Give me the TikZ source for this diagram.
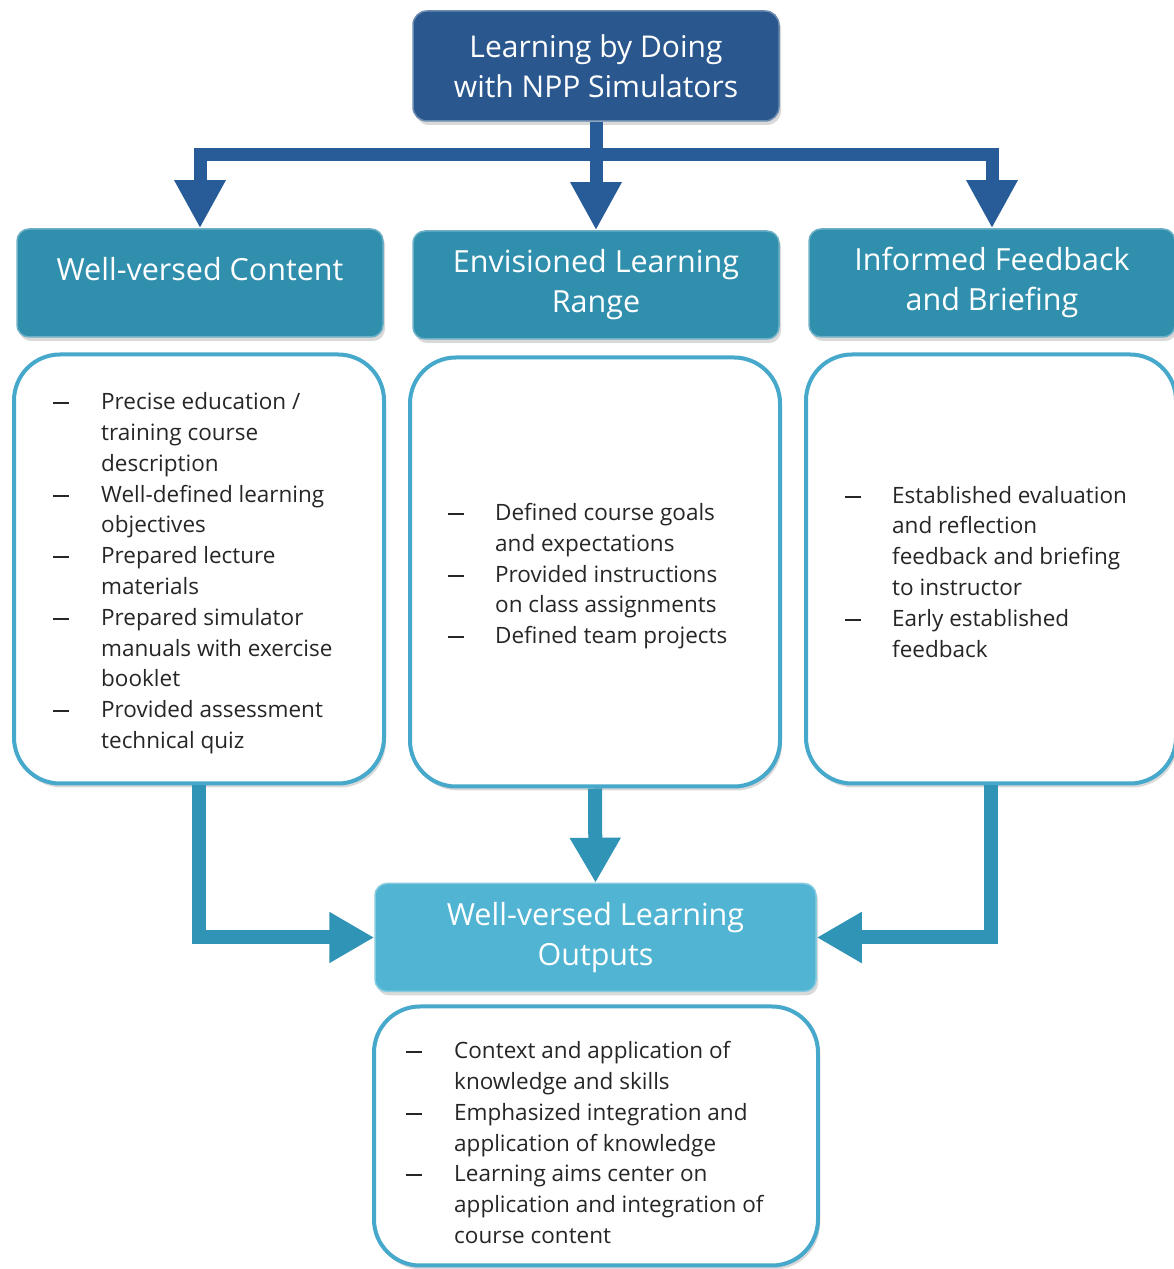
\documentclass[tikz,border=0pt]{standalone}
\usepackage{fontspec}
\setmainfont{Open Sans}
\usetikzlibrary{positioning,arrows.meta,shadows}
\definecolor{topblue}{RGB}{42,88,142}
\definecolor{arrowblue}{RGB}{40,92,152}
\definecolor{headteal}{RGB}{48,143,173}
\definecolor{outteal}{RGB}{80,180,210}
\definecolor{rimteal}{RGB}{70,168,202}
\definecolor{arrowteal}{RGB}{48,148,182}
\newcommand{\bul}{\rule[5.5pt]{16pt}{2pt}}

\begin{document}
\begin{tikzpicture}[x=1pt,y=1pt,
    boxshadow/.style={drop shadow={opacity=0.3,shadow xshift=2pt,shadow yshift=-4pt}},
    topbox/.style={draw=topblue!70!white, line width=1.5pt, fill=topblue, rounded corners=14pt,
      minimum width=366pt, minimum height=110pt, text=white, align=center,
      font=\fontsize{30}{40}\selectfont, boxshadow},
    headbox/.style={draw=headteal!70!white, line width=1.5pt, fill=headteal, rounded corners=12pt,
      minimum width=366pt, minimum height=108pt, text=white, align=center,
      font=\fontsize{30.5}{40}\selectfont, boxshadow},
    outbox/.style={headbox, draw=outteal!70!white, fill=outteal, minimum width=441pt},
    listbox/.style={draw=rimteal, line width=4pt, fill=white, rounded corners=46pt,
      minimum width=370pt, minimum height=429pt, boxshadow},
    listtext/.style={inner sep=0pt, text=black!85, font=\fontsize{22.5}{30.8}\selectfont},
    topline/.style={draw=arrowblue, line width=13pt, line join=miter, -{Triangle[width=48pt,length=48pt]}},
    botline/.style={draw=arrowteal, line width=14pt, line join=miter, -{Triangle[width=48pt,length=45pt]}}]

  \useasboundingbox (0,0) rectangle (1174,1269);

  % Top box
  \node[topbox] (top) at (596,1203) {Learning by Doing\\with NPP Simulators};

  % Headers
  \node[headbox] (hl) at (200,986) {Well-versed Content\\[-12pt]\mbox{}};
  \node[headbox] (hm) at (596,984) {Envisioned Learning\\Range};
  \node[headbox] (hr) at (992,986) {Informed Feedback\\and Briefing};

  % Content boxes
  \node[listbox] (cl) at (199,700) {};
  \node[listbox] (cm) at (595,697) {};
  \node[listbox] (cr) at (991,700) {};

  \node[listtext, right=41pt of cl.west, yshift=-4pt] (tl) {%
    \begin{tabular}{@{}p{48pt}@{}l@{}}
      \bul & Precise education /\\
           & training course\\
           & description\\
      \bul & Well-defined learning\\
           & objectives\\
      \bul & Prepared lecture\\
           & materials\\
      \bul & Prepared simulator\\
           & manuals with exercise\\
           & booklet\\
      \bul & Provided assessment\\
           & technical quiz
    \end{tabular}};
  \node[listtext, right=40pt of cm.west, yshift=-4pt] (tm) {%
    \begin{tabular}{@{}p{47pt}@{}l@{}}
      \bul & Defined course goals\\
           & and expectations\\
      \bul & Provided instructions\\
           & on class assignments\\
      \bul & Defined team projects
    \end{tabular}};
  \node[listtext, right=41pt of cr.west, yshift=-5pt] (tr) {%
    \begin{tabular}{@{}p{47pt}@{}l@{}}
      \bul & Established evaluation\\
           & and reflection\\
           & feedback and briefing\\
           & to instructor\\
      \bul & Early established\\
           & feedback
    \end{tabular}};

  % Outputs
  \node[outbox] (out) at (595.5,331.5) {Well-versed Learning\\Outputs};
  \node[listbox, minimum width=444pt, minimum height=259pt] (co) at (596,133) {};
  \node[listtext, right=34pt of co.west, yshift=-9pt] (to) {%
    \begin{tabular}{@{}p{48pt}@{}l@{}}
      \bul & Context and application of\\
           & knowledge and skills\\
      \bul & Emphasized integration and\\
           & application of knowledge\\
      \bul & Learning aims center on\\
           & application and integration of\\
           & course content
    \end{tabular}};

  % Connectors
  \coordinate (bar) at (596,1114);
  \draw[topline] (top.south) -- (top.south |- bar) -| (hl.north);
  \draw[topline] (top.south) -- (top.south |- bar) -| (hr.north);
  \draw[topline] (top.south) -- (hm.north);

  \draw[botline] (cl.south) |- (out.west);
  \draw[botline] (cr.south) |- (out.east);
  \draw[botline] (cm.south) -- (out.north);

\end{tikzpicture}
\end{document}
